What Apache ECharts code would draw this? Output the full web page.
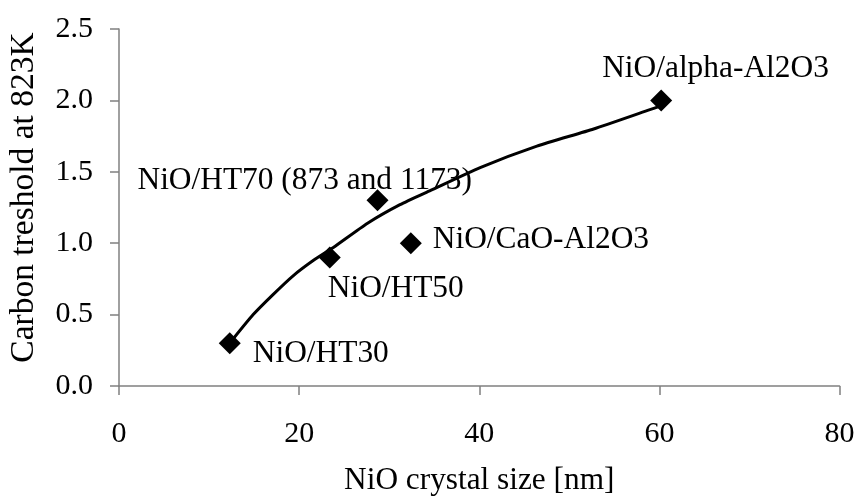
<!DOCTYPE html>
<html>
<head>
<meta charset="utf-8">
<script src="https://cdn.jsdelivr.net/npm/echarts@6/dist/echarts.min.js"></script>
<style>
  html, body { margin: 0; padding: 0; background: #fff; }
  #chart { width: 859px; height: 499px; }
</style>
</head>
<body>
<div id="chart"></div>
<script>
const catalysts = ['NiO/HT30', 'NiO/HT50', 'NiO/HT70 (873 and 1173)', 'NiO/CaO-Al2O3', 'NiO/alpha-Al2O3'];
const crystalSizes = [12.3, 23.4, 28.7, 32.4, 60.2];
const thresholds = [0.3, 0.9, 1.3, 1.0, 2.0];

// trend curve
const trendX = [12.3, 14.9, 17.1, 19.3, 21.6, 23.8, 27.6, 31.2, 34.6, 40.1, 46.4, 52.7, 58.7, 60.1];
const trendY = [0.3, 0.5, 0.64, 0.77, 0.88, 0.97, 1.14, 1.27, 1.37, 1.53, 1.68, 1.8, 1.93, 1.96];

const xTicks = [0, 20, 40, 60, 80];
const yTicks = [0, 0.5, 1.0, 1.5, 2.0, 2.5];

// label placement relative to each marker
const labelOffsets = {
  'NiO/HT30': [23, 11],
  'NiO/HT50': [-2, 31],
  'NiO/HT70 (873 and 1173)': [-240, -20],
  'NiO/CaO-Al2O3': [22, -3],
  'NiO/alpha-Al2O3': [-59, -32],
};

const font = '"Liberation Serif", "Times New Roman", serif';
const axisGray = '#808080';

const chart = echarts.init(document.getElementById('chart'));
chart.setOption({
  backgroundColor: '#fff',
  animation: false,
  grid: { left: 119, right: 19.5, top: 29, bottom: 113, outerBoundsMode: 'none' },
  xAxis: {
    type: 'value',
    min: xTicks[0],
    max: xTicks[xTicks.length - 1],
    interval: 20,
    name: 'NiO crystal size [nm]',
    nameLocation: 'middle',
    nameGap: 79,
    nameTextStyle: { color: '#000', fontFamily: font, fontSize: 31.3 },
    axisLine: { onZero: false, lineStyle: { color: axisGray, width: 1.5 } },
    axisTick: { show: true, length: 9, lineStyle: { color: axisGray, width: 1.5 } },
    axisLabel: { color: '#000', fontFamily: font, fontSize: 30, margin: 33 },
    splitLine: { show: false },
  },
  yAxis: {
    type: 'value',
    min: yTicks[0],
    max: yTicks[yTicks.length - 1],
    interval: 0.5,
    name: 'Carbon treshold at 823K',
    nameLocation: 'middle',
    nameGap: 78,
    nameTextStyle: { color: '#000', fontFamily: font, fontSize: 33.5, padding: [0, 0, 0, 20] },
    axisLine: { show: true, onZero: false, lineStyle: { color: axisGray, width: 1.5 } },
    axisTick: { show: true, length: 9, lineStyle: { color: axisGray, width: 1.5 } },
    axisLabel: {
      color: '#000', fontFamily: font, fontSize: 30, margin: 26,
      formatter: (v) => v.toFixed(1),
    },
    splitLine: { show: false },
  },
  series: [
    {
      name: 'trend',
      type: 'line',
      data: trendX.map((x, i) => [x, trendY[i]]),
      smooth: 0.2,
      showSymbol: false,
      lineStyle: { color: '#000', width: 3 },
      z: 2,
    },
    {
      name: 'catalysts',
      type: 'scatter',
      symbol: 'diamond',
      symbolSize: 22,
      itemStyle: { color: '#000', opacity: 1 },
      z: 3,
      data: crystalSizes.map((x, i) => ({
        value: [x, thresholds[i]],
        name: catalysts[i],
        label: {
          show: true,
          position: 'inside',
          align: 'left',
          verticalAlign: 'middle',
          offset: labelOffsets[catalysts[i]],
          formatter: '{b}',
          color: '#000',
          fontFamily: font,
          fontSize: 31.4,
        },
      })),
    },
  ],
});

window.addEventListener('resize', () => chart.resize());
</script>
</body>
</html>
